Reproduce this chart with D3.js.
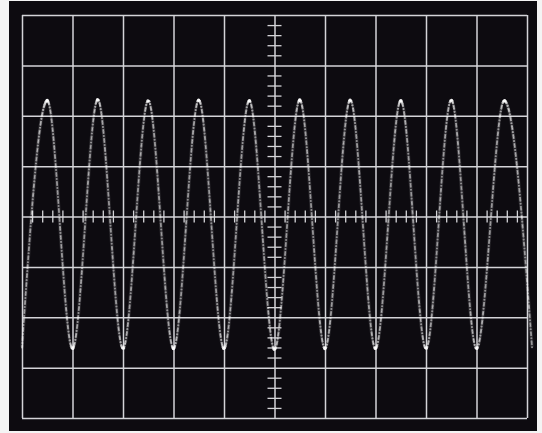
<!DOCTYPE html>
<html>
<head>
<meta charset="utf-8">
<script src="https://cdn.jsdelivr.net/npm/d3@7"></script>
<style>
html,body{margin:0;padding:0;background:#f4f4f4;}
svg{display:block;}
</style>
</head>
<body>
<svg id="c" width="542" height="433"></svg>
<script>
// Screen divisions (oscilloscope graticule)
const timeDivisions = [0, 1, 2, 3, 4, 5, 6, 7, 8, 9, 10];
const voltDivisions = [-4, -3, -2, -1, 0, 1, 2, 3, 4];
// Trace extremes (time in div, voltage in div)
const traceTime  = [0, 0.5, 1, 1.5, 2, 2.5, 3, 3.5, 4, 4.5, 5, 5.5, 6, 6.5, 7, 7.5, 8, 8.5, 9, 9.55, 10.1];
const traceVolts = [-2.6, 2.3, -2.62, 2.32, -2.62, 2.3, -2.62, 2.31, -2.62, 2.3, -2.64, 2.31, -2.62, 2.31, -2.62, 2.3, -2.62, 2.31, -2.62, 2.3, -2.6];

const svg = d3.select("#c");
const W = 542, H = 433;

// screen bezel
svg.append("rect").attr("x", 0).attr("y", 0).attr("width", W).attr("height", H).attr("fill", "#f4f4f4");
svg.append("rect").attr("x", 9).attr("y", 1).attr("width", 528).attr("height", 430).attr("fill", "#0d0b10");

const x = d3.scaleLinear().domain([0, 10]).range([22, 527]);
const y = d3.scaleLinear().domain([-4, 4]).range([418, 15]);

const gridColor = "#d4d4d8";

// vertical grid lines
svg.append("g")
  .attr("transform", `translate(0,${y(-4)})`)
  .call(d3.axisBottom(x).tickValues(timeDivisions).tickSize(-(y(-4) - y(4))).tickFormat(""))
  .call(g => g.select(".domain").remove())
  .call(g => g.selectAll("line").attr("stroke", gridColor).attr("stroke-width", 1.5));

// horizontal grid lines
svg.append("g")
  .attr("transform", `translate(${x(0)},0)`)
  .call(d3.axisLeft(y).tickValues(voltDivisions).tickSize(-(x(10) - x(0))).tickFormat(""))
  .call(g => g.select(".domain").remove())
  .call(g => g.selectAll("line").attr("stroke", gridColor).attr("stroke-width", 1.5));

// minor ticks on centre axes
const minorX = d3.range(0, 10.001, 0.2).filter(v => Math.abs(v - Math.round(v)) > 1e-6);
const minorY = d3.range(-4, 4.001, 0.2).filter(v => Math.abs(v - Math.round(v)) > 1e-6);

svg.append("g")
  .attr("transform", `translate(0,${y(0) + 6})`)
  .call(d3.axisTop(x).tickValues(minorX).tickSize(12).tickFormat(""))
  .call(g => g.select(".domain").remove())
  .call(g => g.selectAll("line").attr("stroke", gridColor).attr("stroke-width", 1.3));

svg.append("g")
  .attr("transform", `translate(${x(5) + 7},0)`)
  .call(d3.axisLeft(y).tickValues(minorY).tickSize(14).tickFormat(""))
  .call(g => g.select(".domain").remove())
  .call(g => g.selectAll("line").attr("stroke", gridColor).attr("stroke-width", 1.3));

// trace
const pts = traceTime.map((t, i) => [x(t), y(traceVolts[i])]);
const line = d3.line().curve(d3.curveMonotoneX);
const path = svg.append("path")
  .attr("d", line(pts))
  .attr("fill", "none")
  .attr("stroke", "#ffffff")
  .attr("stroke-opacity", 0.12)
  .attr("stroke-width", 3.5);

const node = path.node();
const total = node.getTotalLength();
const samples = [];
for (let l = 0; l <= total; l += 1.5) {
  const p = node.getPointAtLength(l);
  samples.push([p.x, p.y]);
}
const dots = svg.append("g");
samples.forEach((p, i) => {
  const q = samples[Math.min(i + 1, samples.length - 1)];
  const r = samples[Math.max(i - 1, 0)];
  const dx = Math.abs(q[0] - r[0]) + 0.001, dy = Math.abs(q[1] - r[1]);
  const flat = dx / (dx + dy);
  const op = 0.3 + 0.7 * Math.pow(flat, 0.5);
  if ((i % 3 !== 0) && flat < 0.3 && (i % 2 === 0)) return; // grainy gaps on steep sides
  dots.append("circle")
    .attr("cx", p[0]).attr("cy", p[1])
    .attr("r", 1.0 + 0.8 * flat)
    .attr("fill", "#ffffff")
    .attr("fill-opacity", op);
});
</script>
</body>
</html>
